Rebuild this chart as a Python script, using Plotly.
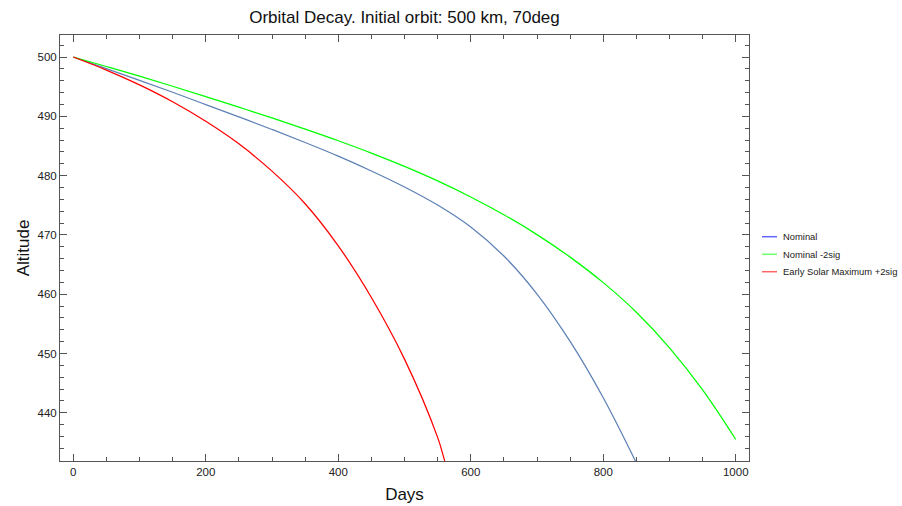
import plotly.graph_objects as go

# ---- data ----
days_nominal = [0, 50, 100, 150, 200, 250, 300, 350, 400, 450, 500, 550, 600, 650, 700, 750, 800, 850]
alt_nominal = [500.0, 498.05, 496.07, 494.05, 491.98, 489.9, 487.78, 485.58, 483.28, 480.78, 478.08,
               475.03, 471.33, 466.43, 460.03, 452.03, 442.53, 431.53]

days_minus2sig = [0, 50, 100, 150, 200, 250, 300, 350, 400, 450, 500, 550, 600, 650, 700, 750,
                  800, 850, 900, 950, 1000]
alt_minus2sig = [500.0, 498.4, 496.76, 495.07, 493.32, 491.54, 489.72, 487.84, 485.88, 483.8, 481.55,
                 479.1, 476.4, 473.4, 470.05, 466.25, 461.95, 456.95, 450.95, 443.85, 435.5]

days_early = [0, 50, 100, 150, 200, 250, 300, 350, 400, 450, 500, 550, 560, 570]
alt_early = [500.0, 497.8, 495.3, 492.45, 489.15, 485.35, 480.75, 475.25, 468.15, 459.45, 449.05,
             435.85, 432.15, 428.25]

series_names = ["Nominal", "Nominal -2sig", "Early Solar Maximum +2sig"]
curve_colors = ["#5E81B5", "#00FF00", "#FF0000"]
legend_colors = ["rgb(100,100,255)", "rgb(110,255,110)", "rgb(255,100,100)"]

x_ticks = [0, 200, 400, 600, 800, 1000]
y_ticks = [440, 450, 460, 470, 480, 490, 500]

FONT = "Liberation Sans, Arial, Helvetica, sans-serif"

# ---- figure ----
fig = go.Figure()
for xs, ys, col, nm in zip([days_nominal, days_minus2sig, days_early],
                           [alt_nominal, alt_minus2sig, alt_early],
                           curve_colors, series_names):
    fig.add_trace(go.Scatter(x=xs, y=ys, mode="lines", name=nm, showlegend=False,
                             line=dict(color=col, width=1.25, shape="spline", smoothing=1.0)))

W, H = 902, 506
ml, mr, mt, mb = 60, 153, 35, 45
pw, ph = W - ml - mr, H - mt - mb

def px_to_paper_x(px):
    return (px - ml) / pw

def px_to_paper_y(py):
    return (H - mb - py) / ph

# manual legend (Mathematica style: short swatch, small text)
legend_y_px = [236.7, 254.3, 271.7]
for nm, col, ypx in zip(series_names, legend_colors, legend_y_px):
    yp = px_to_paper_y(ypx)
    fig.add_shape(type="line", xref="paper", yref="paper",
                  x0=px_to_paper_x(762), x1=px_to_paper_x(777), y0=yp, y1=yp,
                  line=dict(color=col, width=1.5))
    fig.add_annotation(xref="paper", yref="paper", x=px_to_paper_x(781), y=yp,
                       text=nm, showarrow=False, xanchor="left", yanchor="middle",
                       font=dict(family=FONT, size=9.4, color="#222"))

axis_common = dict(
    showgrid=False, zeroline=False, showline=True, linecolor="#555", linewidth=1,
    mirror="allticks", ticks="inside", ticklen=7, tickwidth=1, tickcolor="#555",
    tickfont=dict(family=FONT, size=11.5, color="#222"),
)

fig.update_xaxes(
    range=[-20, 1020], tickmode="array", tickvals=x_ticks,
    minor=dict(ticks="inside", dtick=50, tick0=0, ticklen=4, tickwidth=1, tickcolor="#555"),
    title=dict(text="Days", font=dict(family=FONT, size=17, color="#111"), standoff=11),
    **axis_common)
fig.update_yaxes(
    range=[431.87, 503.71], tickmode="array", tickvals=y_ticks,
    minor=dict(ticks="inside", dtick=2, tick0=0, ticklen=4, tickwidth=1, tickcolor="#555"),
    title=dict(text="Altitude", font=dict(family=FONT, size=17, color="#111"), standoff=3),
    **axis_common)

fig.update_layout(
    width=W, height=H,
    margin=dict(l=ml, r=mr, t=mt, b=mb, autoexpand=False),
    paper_bgcolor="white", plot_bgcolor="white",
    showlegend=False,
    title=dict(text="Orbital Decay. Initial orbit: 500 km, 70deg",
               font=dict(family=FONT, size=17, color="#111"),
               x=0.5, xref="paper", xanchor="center",
               y=1 - 17 / H, yref="container", yanchor="middle"),
)

fig.write_html("out.html")
